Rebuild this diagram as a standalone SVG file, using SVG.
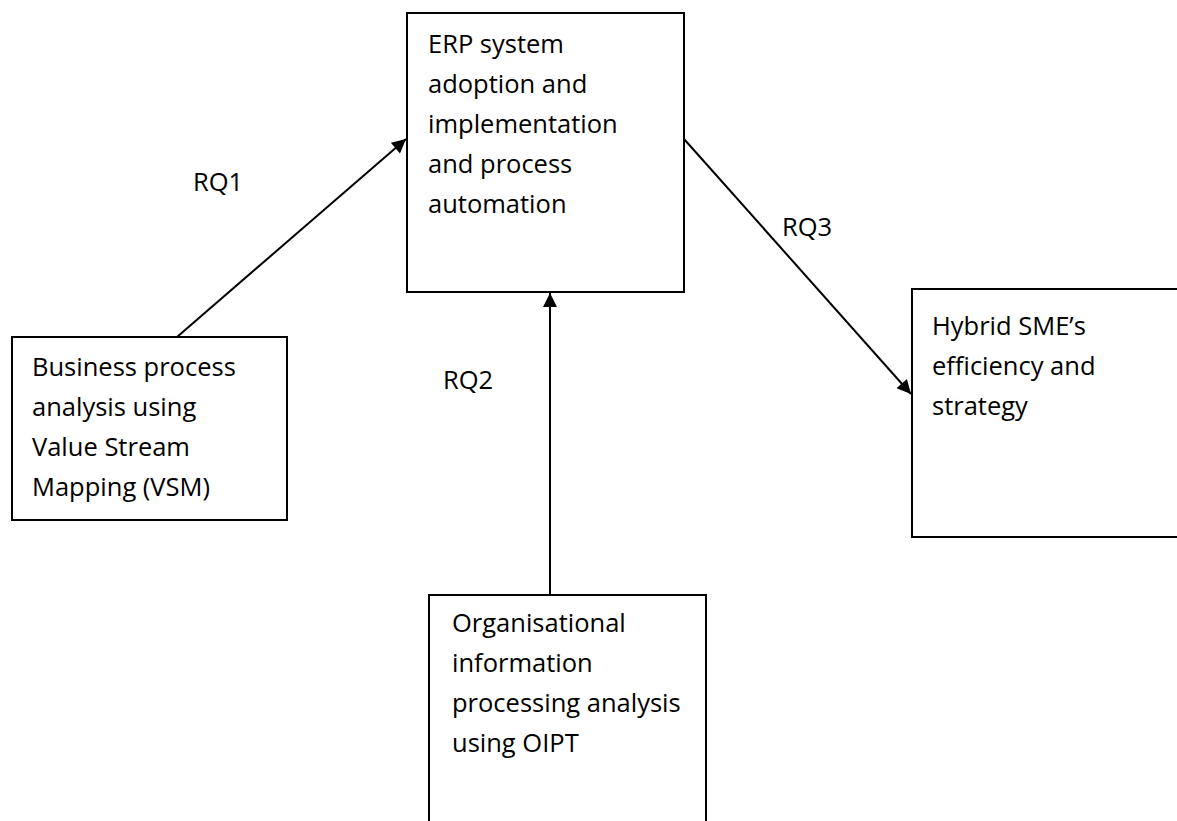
<svg xmlns="http://www.w3.org/2000/svg" width="1177" height="821" viewBox="0 0 1177 821">
  <style>
    .box { fill: #ffffff; stroke: #000000; stroke-width: 2; }
    .lbl { font-family: "Open Sans", Lato, sans-serif; font-size: 25.5px; fill: #000000; }
    .edge { stroke: #000000; stroke-width: 2; fill: none; marker-end: url(#head); }
  </style>
  <defs>
    <marker id="head" viewBox="0 0 10 10" refX="10" refY="5" markerWidth="9" markerHeight="7" markerUnits="strokeWidth" orient="auto">
      <path d="M0,0 L10,5 L0,10 Z" fill="#000000"/>
    </marker>
  </defs>
  <rect width="1177" height="821" fill="#ffffff"/>

  <g id="connectors">
    <line class="edge" x1="177" y1="337" x2="406" y2="139"/>
    <line class="edge" x1="550" y1="595" x2="550" y2="293"/>
    <line class="edge" x1="684" y1="139" x2="911" y2="394"/>
  </g>

  <g id="erp">
    <rect class="box" x="407" y="13" width="277" height="279"/>
    <text class="lbl" x="428" y="53">ERP system</text>
    <text class="lbl" x="428" y="93">adoption and</text>
    <text class="lbl" x="428" y="133">implementation</text>
    <text class="lbl" x="428" y="173">and process</text>
    <text class="lbl" x="428" y="213">automation</text>
  </g>

  <g id="vsm">
    <rect class="box" x="12" y="337" width="275" height="183"/>
    <text class="lbl" x="32" y="376">Business process</text>
    <text class="lbl" x="32" y="416">analysis using</text>
    <text class="lbl" x="32" y="456">Value Stream</text>
    <text class="lbl" x="32" y="496">Mapping (VSM)</text>
  </g>

  <g id="sme">
    <path class="box" d="M1177,289 L912,289 L912,537 L1177,537"/>
    <text class="lbl" x="932" y="335">Hybrid SME’s</text>
    <text class="lbl" x="932" y="375">efficiency and</text>
    <text class="lbl" x="932" y="415">strategy</text>
  </g>

  <g id="oipt">
    <path class="box" d="M429,821 L429,595 L706,595 L706,821"/>
    <text class="lbl" x="452" y="632">Organisational</text>
    <text class="lbl" x="452" y="672">information</text>
    <text class="lbl" x="452" y="712">processing analysis</text>
    <text class="lbl" x="452" y="752">using OIPT</text>
  </g>

  <g id="labels">
    <text class="lbl" x="193" y="191">RQ1</text>
    <text class="lbl" x="443" y="389">RQ2</text>
    <text class="lbl" x="782" y="236">RQ3</text>
  </g>
</svg>
